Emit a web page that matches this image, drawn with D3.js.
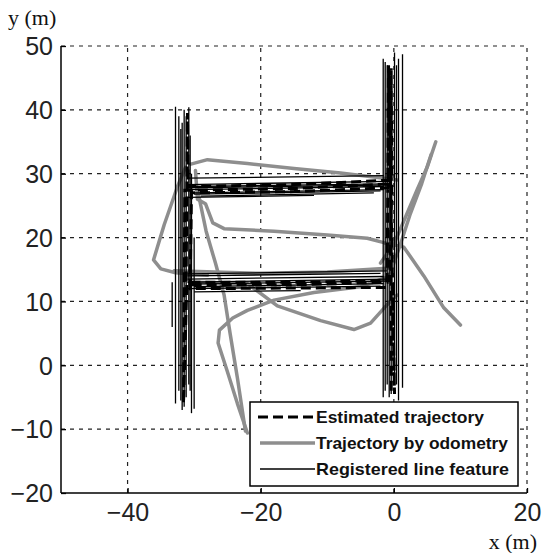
<!DOCTYPE html>
<html><head><meta charset="utf-8">
<script src="https://cdn.jsdelivr.net/npm/d3@7"></script>
<style>body{margin:0;background:#fff}svg{display:block}</style>
</head><body>
<svg id="c" width="542" height="553"></svg>
<script>
const xTicks = [-40, -20, 0, 20];
const yTicks = [-20, -10, 0, 10, 20, 30, 40, 50];
const legendLabels = ["Estimated trajectory", "Trajectory by odometry", "Registered line feature"];

// Estimated trajectory (dashed)
const estimatedTrajectory = [
  [-0.4,-4],[-0.4,46.5],[-0.3,29],[-15,28.3],[-30.9,28],[-31,39.5],[-31.2,13],[-15,13],[-0.6,13.3],
  [-0.3,28.4],[-15,27.7],[-31.4,27.4],[-31.6,-6],[-31.1,12.6],[-15,12.6],[-1,13],[-0.8,47],[0.1,-4.5],
  [-0.2,12.2],[-15,12.1],[-30.6,12.0],[-30.4,27.0],[-15,27.2],[-0.9,27.8],[-0.6,45]
];

// Odometry tracks (gray)
const odoTop = [[-30.5,31.5],[-28,32.2],[-22,31.6],[-15,30.8],[-8,30.1],[-1.5,29.3],[0.5,29]];
const odoMiddle = [[-29.8,30.5],[-29.5,26],[-28.3,25.3],[-27.2,22.3],[-25.5,21.4],[-18,21],[-10,20.4],[-4,19.9],[-1.5,19.2],[1.5,18.5],[4.5,14],[7.5,9],[10,6.3]];
const odoRightA = [[-2,16],[0,19],[1.5,22.6],[3.5,27.5],[5,31],[6.3,35]];
const odoRightB = [[-0.5,14.5],[1,19],[2.4,23.5],[4.2,28.5],[5.6,33]];
const odoLeftKink = [[-31.3,31],[-32.5,28],[-34.5,22],[-36.1,16.5],[-35,15.1],[-32.8,14.5],[-28,14.1]];
const odoDiagA = [[-29.4,27],[-28.2,21],[-26.8,16],[-25.5,11],[-24.6,5],[-23.5,-2],[-22.3,-10.3]];
const odoDiagB = [[-1,13.8],[-5,12.3],[-12,11.4],[-18,10.2],[-22,8.6],[-24.2,7.4],[-26.2,5.5],[-26.4,3.5],[-25,-1],[-23.5,-6],[-22,-10.6]];
const odoDiagC = [[-30,13],[-22,12.8],[-17.5,9.3],[-11,7],[-6,5.6],[-3.5,6.6],[-1,9.5],[0.5,11]];
const odoLowerBand = [[-33,14.8],[-20,14.4],[-10,14.6],[-1,15.2]];
const odometryTracks = [odoTop, odoMiddle, odoRightA, odoRightB, odoLeftKink, odoDiagA, odoDiagB, odoDiagC, odoLowerBand];

// Registered line features [x1,y1,x2,y2]
const lineFeatures = [
  [-33.3,13,-33.3,6],
  [-32.8,40.5,-32.8,-6],[-32.3,39,-32.3,-4],[-31.8,38,-31.8,-7],[-31.2,39,-31.2,-5],
  [-30.8,40.4,-30.8,-3],[-30.4,30,-30.4,-7.5],[-30.0,20,-30.0,-6.8],
  [-32.0,37,-32.0,-5.5],[-31.5,40,-31.5,-6.5],[-30.6,36,-30.6,-4],
  [-1.6,48,-1.6,-5],[-1.0,47,-1.0,-3],[-0.4,46,-0.4,-4.5],[0.1,49,0.1,-2],[0.7,48,0.7,-5.5],[1.3,48.7,1.3,-3.5],
  [-1.3,47.5,-1.3,-4],[0.4,47,0.4,-3],[-0.7,45,-0.7,-5],
  [-31,29.3,-1.5,29.7],[-31,28.3,-1,28.8],[-30.5,27.5,-1.5,28],[-30,26.8,-2,27.3],[-31,26.3,-12,26.6],
  [-30.5,28.0,-1,28.4],[-30,27.0,-1.5,27.5],[-29,26.5,-3,27.0],[-31,27.8,-2,28.2],
  [-31,14.3,-1,14.8],[-31,13.5,-1.5,13.9],[-30.5,12.7,-1,13.2],[-31,12,-2,12.4],[-30,11.5,-14,11.7],
  [-31,13.0,-1,13.5],[-30,12.3,-1.5,12.8],[-31,14.0,-2,14.4]
];

const svg = d3.select("#c");
const L = 61, R = 527, T = 46, B = 493;
const x = d3.scaleLinear().domain([-50, 20]).range([L, R]);
const y = d3.scaleLinear().domain([-20, 50]).range([B, T]);
const line = d3.line().x(d => x(d[0])).y(d => y(d[1]));

// grid
const g = svg.append("g");
g.selectAll(".gx").data(xTicks).join("line")
  .attr("x1", d => x(d)).attr("x2", d => x(d)).attr("y1", B).attr("y2", T)
  .attr("stroke", "#222").attr("stroke-width", 1.2).attr("stroke-dasharray", "4,5");
g.selectAll(".gy").data(yTicks.filter(v => v > -20)).join("line")
  .attr("y1", d => y(d)).attr("y2", d => y(d)).attr("x1", L).attr("x2", R)
  .attr("stroke", "#222").attr("stroke-width", 1.2).attr("stroke-dasharray", "4,5");

// odometry
svg.append("g").selectAll("path").data(odometryTracks).join("path")
  .attr("d", line).attr("fill", "none").attr("stroke", "#8e8e8e")
  .attr("stroke-width", 3.5).attr("stroke-linejoin", "round").attr("stroke-linecap", "round");

// line features
svg.append("g").selectAll("line").data(lineFeatures).join("line")
  .attr("x1", d => x(d[0])).attr("y1", d => y(d[1])).attr("x2", d => x(d[2])).attr("y2", d => y(d[3]))
  .attr("stroke", "#000").attr("stroke-width", 1.3);

// estimated
svg.append("path").datum(estimatedTrajectory).attr("d", line).attr("fill", "none")
  .attr("stroke", "#000").attr("stroke-width", 3).attr("stroke-dasharray", "10,5");

// axes (left & bottom)
const xAxis = d3.axisBottom(x).tickValues(xTicks).tickSize(-5).tickPadding(12).tickFormat(d3.format("d"));
const yAxis = d3.axisLeft(y).tickValues(yTicks).tickSize(-5).tickPadding(8).tickFormat(d3.format("d"));
const gx = svg.append("g").attr("transform", `translate(0,${B})`).call(xAxis);
const gy = svg.append("g").attr("transform", `translate(${L},0)`).call(yAxis);
[gx, gy].forEach(a => {
  a.select(".domain").attr("stroke", "#000").attr("stroke-width", 1.5);
  a.selectAll(".tick line").attr("stroke", "#000").attr("stroke-width", 1.3);
  a.selectAll("text").attr("font-family", "Liberation Sans, Arial, sans-serif").attr("font-size", 25).attr("fill", "#222");
});
gx.selectAll(".domain").attr("d", `M${L},0H${R}`);
gy.selectAll(".domain").attr("d", `M0,${B}V${T}`);
gx.selectAll("text").attr("dy", "0.71em").attr("y", 10);
gy.selectAll("text").attr("x", -8).attr("dy", "0.35em");

// axis labels
svg.append("text").attr("x", 8).attr("y", 25).text("y (m)")
  .attr("font-family", "Liberation Serif, Times New Roman, serif").attr("font-size", 22).attr("fill", "#111");
svg.append("text").attr("x", 537).attr("y", 549).attr("text-anchor", "end").text("x (m)")
  .attr("font-family", "Liberation Serif, Times New Roman, serif").attr("font-size", 22).attr("fill", "#111");

// legend
const lg = svg.append("g");
lg.append("rect").attr("x", 250).attr("y", 402).attr("width", 268).attr("height", 84)
  .attr("fill", "#fff").attr("stroke", "#000").attr("stroke-width", 1.5);
const ly = [417, 443, 469];
const textW = [168, 192, 193];
lg.append("line").attr("x1", 258).attr("x2", 315).attr("y1", ly[0]).attr("y2", ly[0])
  .attr("stroke", "#000").attr("stroke-width", 3).attr("stroke-dasharray", "10,5");
lg.append("line").attr("x1", 260).attr("x2", 315).attr("y1", ly[1]).attr("y2", ly[1])
  .attr("stroke", "#8e8e8e").attr("stroke-width", 3.5);
lg.append("line").attr("x1", 260).attr("x2", 315).attr("y1", ly[2]).attr("y2", ly[2])
  .attr("stroke", "#000").attr("stroke-width", 1.3);
lg.selectAll("text").data(legendLabels).join("text")
  .attr("x", 316).attr("y", (d, i) => ly[i] + 6).text(d => d)
  .attr("font-family", "Liberation Sans, Arial, sans-serif").attr("font-weight", "bold")
  .attr("font-size", 17).attr("fill", "#111")
  .attr("textLength", (d, i) => textW[i]).attr("lengthAdjust", "spacingAndGlyphs");
</script>
</body></html>
